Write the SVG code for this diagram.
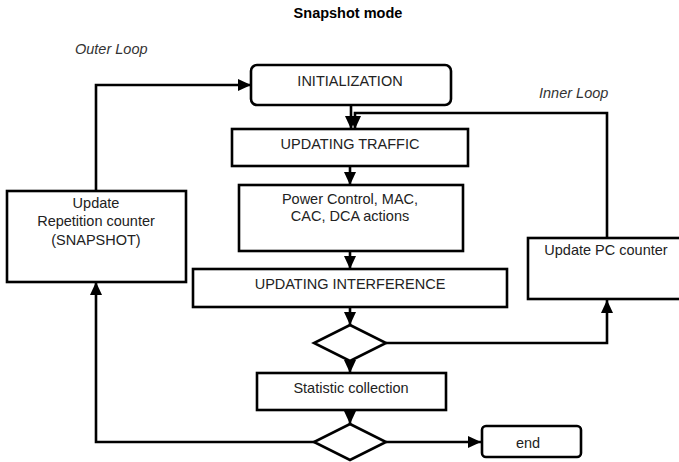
<svg xmlns="http://www.w3.org/2000/svg" width="679" height="462" viewBox="0 0 679 462">
  <defs>
    <marker id="arrow" viewBox="0 0 13 12" refX="13" refY="6" markerWidth="13" markerHeight="12" markerUnits="userSpaceOnUse" orient="auto">
      <path d="M0,0 L13,6 L0,12 z" fill="#000"/>
    </marker>
    <style>
      .box { fill: #fff; stroke: #000; stroke-width: 2.6; }
      .edge { fill: none; stroke: #000; stroke-width: 2.6; marker-end: url(#arrow); }
      .line { fill: none; stroke: #000; stroke-width: 2.6; }
      .label { font-family: "Liberation Sans", Arial, sans-serif; font-size: 14.5px; fill: #222; text-anchor: middle; }
      .note { font-family: "Liberation Sans", Arial, sans-serif; font-size: 14.5px; font-style: italic; fill: #333; }
      .title { font-family: "Liberation Sans", Arial, sans-serif; font-size: 14.5px; font-weight: bold; fill: #000; text-anchor: middle; }
    </style>
  </defs>
  <rect width="679" height="462" fill="#fff"/>

  <text class="title" x="348" y="18">Snapshot mode</text>
  <text class="note" x="75" y="54">Outer Loop</text>
  <text class="note" x="539" y="98">Inner Loop</text>

  <!-- connectors -->
  <g id="connectors">
    <path class="edge" d="M351,105 V129"/>
    <path class="edge" d="M607,238 V113 H355 V129"/>
    <path class="edge" d="M350,166 V185"/>
    <path class="edge" d="M350,251 V269"/>
    <path class="edge" d="M350,307 V325"/>
    <path class="edge" d="M350,361 V373"/>
    <path class="edge" d="M350,410 V424"/>
    <path class="edge" d="M386,343 H607 V300"/>
    <path class="edge" d="M315,442 H96 V282"/>
    <path class="edge" d="M96,191 V85 H251"/>
    <path class="edge" d="M386,442 H481"/>
  </g>

  <g id="init">
    <rect class="box" x="251" y="65" width="200" height="40" rx="6"/>
    <text class="label" x="350" y="86">INITIALIZATION</text>
  </g>

  <g id="traffic">
    <rect class="box" x="232" y="129" width="236" height="37"/>
    <text class="label" x="350" y="149">UPDATING TRAFFIC</text>
  </g>

  <g id="actions">
    <rect class="box" x="239" y="185" width="224" height="66"/>
    <text class="label" x="350" y="204">Power Control, MAC,</text>
    <text class="label" x="350" y="221">CAC, DCA actions</text>
  </g>

  <g id="interference">
    <rect class="box" x="193" y="269" width="314" height="38"/>
    <text class="label" x="350" y="289">UPDATING INTERFERENCE</text>
  </g>

  <g id="decision-inner">
    <polygon class="box" points="350,325 386,343 350,361 314,343"/>
  </g>

  <g id="statistics">
    <rect class="box" x="257" y="373" width="189" height="37"/>
    <text class="label" x="351" y="393">Statistic collection</text>
  </g>

  <g id="decision-outer">
    <polygon class="box" points="350,424 386,442 350,460 314,442"/>
  </g>

  <g id="end">
    <rect class="box" x="482" y="426" width="99" height="31" rx="4"/>
    <text class="label" x="528" y="448">end</text>
  </g>

  <g id="repetition-counter">
    <rect class="box" x="7" y="191" width="179" height="91"/>
    <text class="label" x="96" y="208">Update</text>
    <text class="label" x="96" y="226">Repetition counter</text>
    <text class="label" x="96" y="245">(SNAPSHOT)</text>
  </g>

  <g id="pc-counter">
    <rect class="box" x="528" y="238" width="160" height="61"/>
    <text class="label" x="606" y="255">Update PC counter</text>
  </g>
</svg>
